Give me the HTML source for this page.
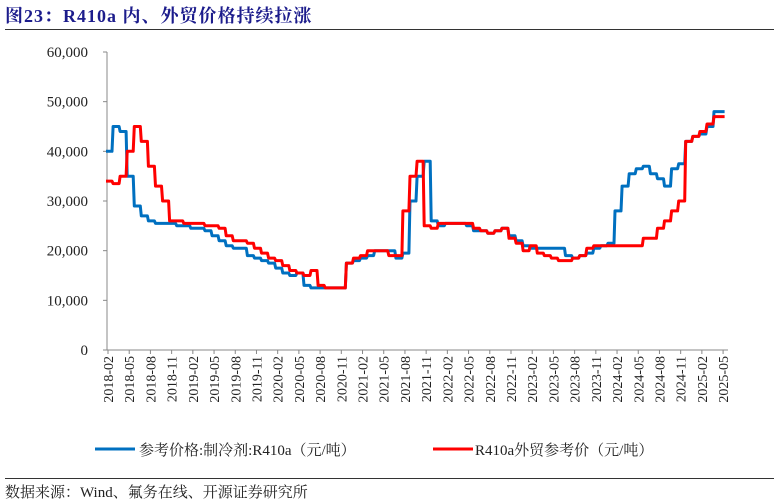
<!DOCTYPE html>
<html><head><meta charset="utf-8">
<style>
body{margin:0;background:#fff;width:774px;height:504px;overflow:hidden;font-family:"Liberation Serif","Noto Serif CJK SC",serif;}
svg{position:absolute;left:0;top:0}
</style></head>
<body>
<svg id="c" width="774" height="504">
<text x="5" y="22" font-size="18" font-weight="bold" fill="#1c1c8c" letter-spacing="1" font-family="Liberation Serif, Noto Serif CJK SC, serif">图23：R410a 内、外贸价格持续拉涨</text>
<line x1="5" y1="29.5" x2="774" y2="29.5" stroke="#333" stroke-width="1"/>
<g id="axes"></g>
<g id="series"></g>
<g>
<line x1="95" y1="449" x2="135" y2="449" stroke="#0070c0" stroke-width="3"/>
<text x="139" y="455" font-size="15" fill="#222">参考价格:制冷剂:R410a（元/吨）</text>
<line x1="433" y1="449" x2="473" y2="449" stroke="#ff0000" stroke-width="3"/>
<text x="475" y="455" font-size="15" fill="#222">R410a外贸参考价（元/吨）</text>
</g>
<line x1="5" y1="478.5" x2="774" y2="478.5" stroke="#333" stroke-width="1"/>
<text x="5" y="497" font-size="15" fill="#222">数据来源：Wind、氟务在线、开源证券研究所</text>
</svg>
<script>
const yTicks=[0,10000,20000,30000,40000,50000,60000];
const xLabels=["2018-02","2018-05","2018-08","2018-11","2019-02","2019-05","2019-08","2019-11","2020-02","2020-05","2020-08","2020-11","2021-02","2021-05","2021-08","2021-11","2022-02","2022-05","2022-08","2022-11","2023-02","2023-05","2023-08","2023-11","2024-02","2024-05","2024-08","2024-11","2025-02","2025-05"];
const domestic=[40000,45000,44000,35000,29000,27000,26000,25500,25500,25500,25000,25000,24500,24500,24000,23000,22000,21000,20500,20500,19000,18500,18000,17500,16500,15500,15000,15500,13000,12500,12500,12500,12500,12500,17500,18000,18500,19000,20000,20000,20000,18500,19500,30000,35000,38000,26000,25000,25500,25500,25500,25000,24000,24000,23500,24000,24500,23000,22000,21000,20500,20500,20500,20500,20500,19000,18500,19000,19500,20500,21000,21500,28000,33000,35500,36500,37000,35500,34500,33000,36500,37500,42000,43000,43500,45000,48000,48000];
const exportPrice=[34000,33500,35000,40000,45000,42000,37000,33000,30000,26000,26000,25500,25500,25500,25000,25000,24500,23000,22000,22000,21500,20500,19500,18500,18000,17000,16000,15500,15000,16000,13000,12500,12500,12500,17500,18500,19000,20000,20000,20000,19000,19000,28000,35000,38000,25000,24500,25500,25500,25500,25500,25500,24500,24000,23500,24000,24500,22500,21500,20000,21000,19500,19000,18500,18000,18000,18500,19000,20500,21000,21000,21000,21000,21000,21000,21000,22500,22500,24500,26000,28000,30000,42000,43000,44000,45500,47000,47000];
const NS="http://www.w3.org/2000/svg";
const X0=106,DX=7.07,Y0=350,YTOP=52,YMAX=60000;
function xs(m){return X0+m*DX;}
function ys(v){return Y0-(v/YMAX)*(Y0-YTOP);}
function mk(tag,attrs,parent){const e=document.createElementNS(NS,tag);for(const k in attrs)e.setAttribute(k,attrs[k]);parent.appendChild(e);return e;}
const ax=document.getElementById('axes');
const ya=mk('line',{x1:107,y1:YTOP,x2:107,y2:Y0,stroke:'#888','stroke-width':1},ax);


const xa=mk('line',{x1:107,y1:Y0,x2:728,y2:Y0,stroke:'#888','stroke-width':1},ax);


yTicks.forEach(v=>{
  const y=ys(v);
  mk('line',{x1:103,y1:y,x2:107,y2:y,stroke:'#888'},ax);
  const t=mk('text',{x:88,y:y+5,'font-size':15,fill:'#222','text-anchor':'end'},ax);
  t.textContent=v.toLocaleString('en-US');
  
  
});
xLabels.forEach((l,i)=>{
  const x=108+i*3*DX;
  mk('line',{x1:x,y1:Y0,x2:x,y2:Y0+4,stroke:'#888'},ax);
  const t=mk('text',{x:0,y:0,'font-size':14,fill:'#222','text-anchor':'end',transform:`translate(${x+5},${Y0+6}) rotate(-90)`},ax);
  t.textContent=l;
  
  
});
const sg=document.getElementById('series');
function path(arr){
  let d='M'+xs(0).toFixed(1)+','+ys(arr[0]).toFixed(1);
  for(let i=1;i<arr.length;i++){
    const xm=xs(i-0.15);
    d+='L'+xm.toFixed(1)+','+ys(arr[i-1]).toFixed(1)+'L'+xs(i).toFixed(1)+','+ys(arr[i]).toFixed(1);
  }
  d+='L'+xs(arr.length-0.5).toFixed(1)+','+ys(arr[arr.length-1]).toFixed(1);
  return d;
}
const p1=mk('path',{d:path(domestic),fill:'none',stroke:'#0070c0','stroke-width':3,'stroke-linejoin':'round'},sg);


const p2=mk('path',{d:path(exportPrice),fill:'none',stroke:'#ff0000','stroke-width':3,'stroke-linejoin':'round'},sg);


</script>
</body></html>
